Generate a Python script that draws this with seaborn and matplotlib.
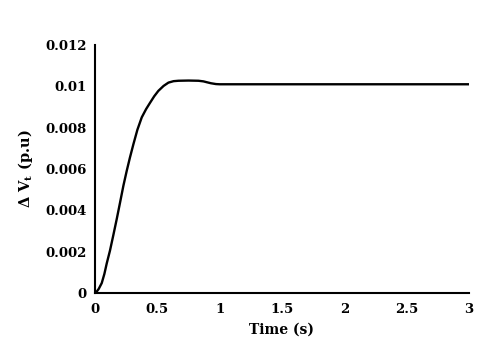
import matplotlib
matplotlib.use("Agg")
import matplotlib.pyplot as plt
import seaborn as sns
import pandas as pd

time_s = [0.0, 0.015, 0.03, 0.054, 0.075, 0.094, 0.12, 0.147, 0.175, 0.20, 0.228, 0.254,
          0.28, 0.308, 0.34, 0.375, 0.41, 0.441, 0.475, 0.508, 0.55, 0.589, 0.63, 0.669,
          0.75, 0.83, 0.87, 0.896, 0.93, 0.97, 1.0, 1.5, 2.0, 2.5, 3.0]
delta_vt = [0.0, 0.00008, 0.0002, 0.00048, 0.00092, 0.00143, 0.00205, 0.0028, 0.0036,
            0.00435, 0.0052, 0.0059, 0.00655, 0.0072, 0.0079, 0.0085, 0.0089, 0.0092,
            0.00952, 0.00978, 0.01002, 0.01018, 0.01025, 0.01027, 0.01028, 0.01027,
            0.01024, 0.0102, 0.01015, 0.01011, 0.0101, 0.0101, 0.0101, 0.0101, 0.0101]
x_ticks = [0, 0.5, 1, 1.5, 2, 2.5, 3]
x_tick_labels = ["0", "0.5", "1", "1.5", "2", "2.5", "3"]
y_ticks = [0, 0.002, 0.004, 0.006, 0.008, 0.01, 0.012]
y_tick_labels = ["0", "0.002", "0.004", "0.006", "0.008", "0.01", "0.012"]

df = pd.DataFrame({"t": time_s, "v": delta_vt})

sns.set_style("white")
plt.rcParams["font.family"] = ["DejaVu Serif"]
plt.rcParams["mathtext.fontset"] = "dejavuserif"
plt.rcParams["text.color"] = "black"
plt.rcParams["axes.labelcolor"] = "black"
plt.rcParams["xtick.color"] = "black"
plt.rcParams["ytick.color"] = "black"

fig = plt.figure(figsize=(4.88, 3.53), dpi=100)
ax = fig.add_axes([0.1947, 0.17, 0.7663, 0.7025])
sns.lineplot(data=df, x="t", y="v", ax=ax, color="black", linewidth=1.7)

ax.set_xlim(0, 3)
ax.set_ylim(0, 0.012)
ax.set_xticks(x_ticks)
ax.set_xticklabels(x_tick_labels, fontsize=9.5, fontweight="bold")
ax.set_yticks(y_ticks)
ax.set_yticklabels(y_tick_labels, fontsize=9.5, fontweight="bold")
ax.tick_params(axis="x", direction="in", length=3, width=1, colors="black", pad=7)
ax.tick_params(axis="y", direction="in", length=3, width=1, colors="black", pad=6)
ax.set_xlabel("Time (s)", fontsize=10, fontweight="bold", labelpad=5, color="black")
ax.set_ylabel(r"Δ V$_\mathbf{t}$ (p.u)", fontsize=10.5, fontweight="bold", labelpad=7,
              color="black")
for side in ["top", "right"]:
    ax.spines[side].set_visible(False)
for side in ["left", "bottom"]:
    ax.spines[side].set_color("black")
    ax.spines[side].set_linewidth(1.5)

fig.savefig("out.png", dpi=100, facecolor="white")
